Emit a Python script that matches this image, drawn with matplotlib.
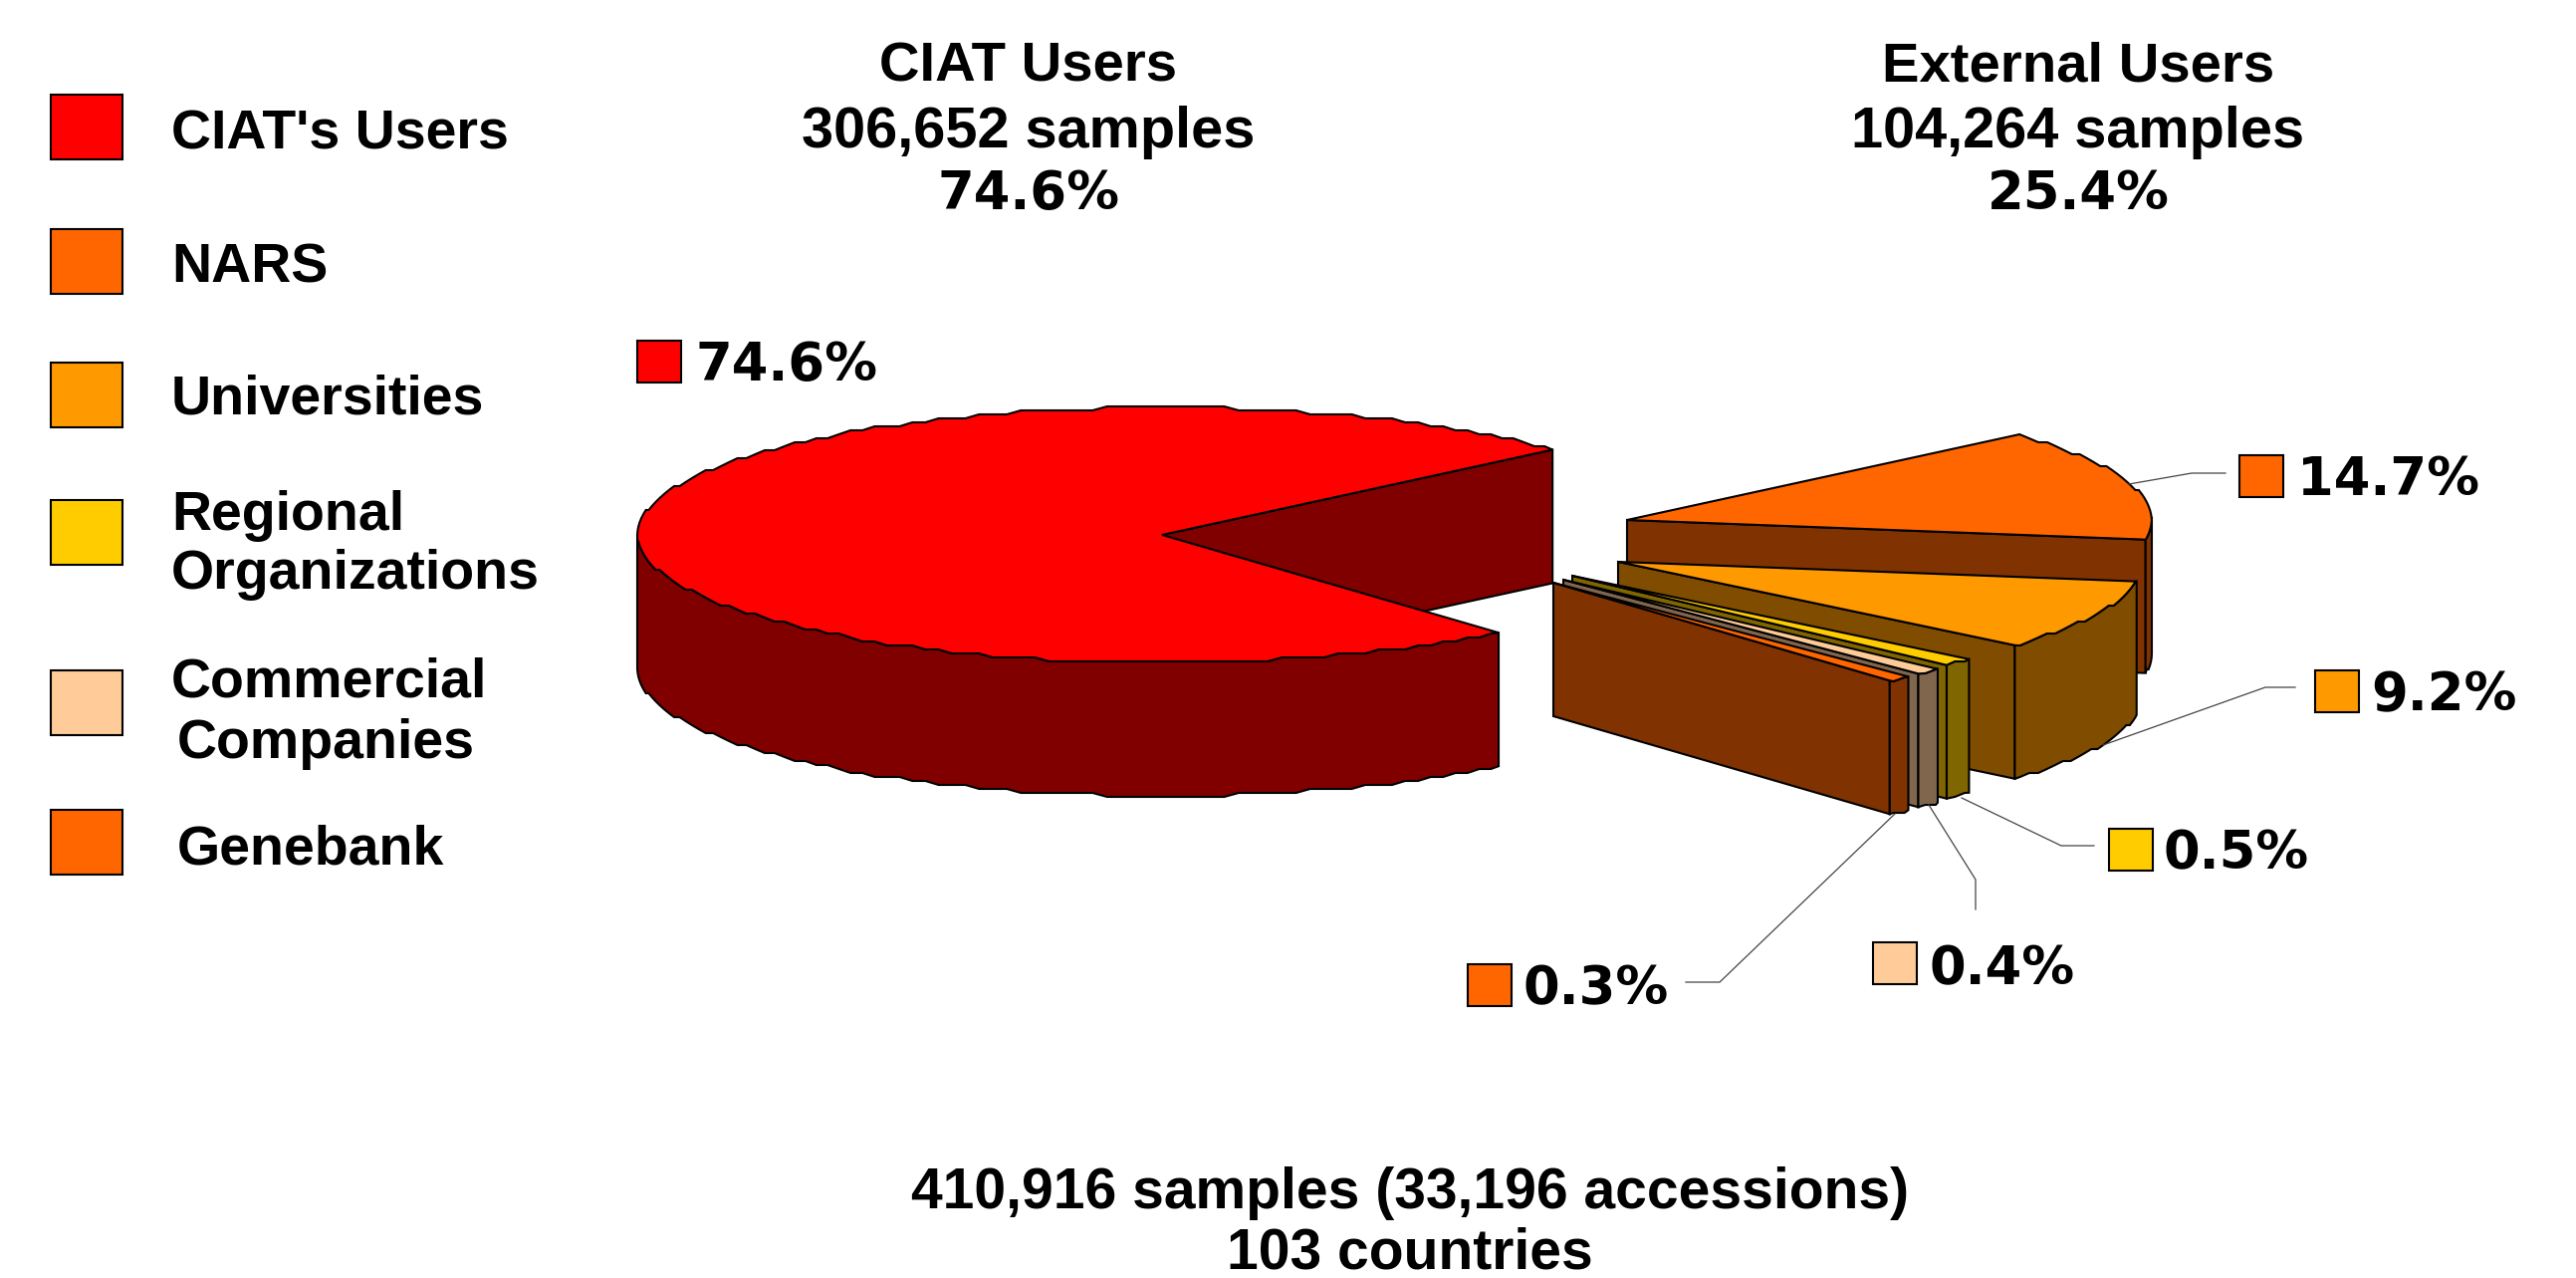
import numpy as np
import matplotlib
matplotlib.use('Agg')
import matplotlib.pyplot as plt
from matplotlib.colors import to_rgb
from matplotlib.patches import Polygon, Rectangle

# slices: share labelled on the chart, and the share the slices are actually drawn with
# (the thin ones are drawn wider than their labels, total still 100)
slice_names = ["CIAT's Users", 'NARS', 'Universities', 'Regional Organizations', 'Commercial Companies', 'Genebank']
label_pct = [74.6, 14.7, 9.2, 0.5, 0.4, 0.3]
drawn_pct = [74.44, 14.1, 8.9, 1.0, 0.82, 0.75]
slice_colors = ['#FF0000', '#FF6600', '#FF9900', '#FFCC00', '#FFCC99', '#FF6600']

heading_left = ['CIAT Users', '306,652 samples', '74.6%']
heading_right = ['External Users', '104,264 samples', '25.4%']
footer = ['410,916 samples (33,196 accessions)', '103 countries']

# pie geometry, in figure pixels
RX, RY, DEPTH = 527, 128, 134
START = 309.9  # degrees, slices run clockwise from here
center_x = [1167, 1634, 1625, 1579, 1570, 1560]
center_y = [537, 522, 564, 578, 582, 585]

W, H = 2587, 1283
fig = plt.figure(figsize=(W / 100, H / 100), dpi=100)
ax = fig.add_axes([0, 0, 1, 1])
ax.set_xlim(0, W)
ax.set_ylim(H, 0)
ax.axis('off')


def rim(cx, cy, a0, a1, drop=0):
    # same angle grid for every call, so top face and wall share their outline
    lo, hi = min(a0, a1), max(a0, a1)
    inner = np.arange(np.ceil(lo / 1.6 + 0.01), np.floor(hi / 1.6 - 0.01) + 1) * 1.6
    deg = np.concatenate([[lo], inner, [hi]])
    t = np.radians(deg)
    x = cx + RX * np.cos(t)
    y = cy - RY * np.sin(t) + drop
    # the outline of the original is slightly stepped
    y[1:-1] = np.round(y[1:-1] / 4) * 4
    pts = np.column_stack([x, y])
    return pts if a1 >= a0 else pts[::-1]


def draw_slice(cx, cy, a0, a1, color):
    dark = tuple(c / 2 for c in to_rgb(color))
    style = dict(facecolor=dark, edgecolor='black', lw=1.5, joinstyle='miter')
    # cut faces that look towards the viewer
    for a, visible in ((a0, np.cos(np.radians(a0)) > 0), (a1, np.cos(np.radians(a1)) < 0)):
        if visible:
            end = rim(cx, cy, a, a)[0]
            ax.add_patch(Polygon([(cx, cy), end, end + [0, DEPTH], (cx, cy + DEPTH)], **style))
    # outer wall, only the front half of the ellipse shows
    for lo, hi in ((a0, a1), (a0 - 360, a1 - 360)):
        lo, hi = max(lo, -180), min(hi, 0)
        if hi > lo:
            top = rim(cx, cy, lo, hi)
            bottom = rim(cx, cy, hi, lo, DEPTH)
            ax.add_patch(Polygon(np.vstack([top, bottom]), **style))
    # top face
    pts = np.vstack([[(cx, cy)], rim(cx, cy, a0 - 360, a1 - 360)])
    ax.add_patch(Polygon(pts, facecolor=color, edgecolor='black', lw=1.5, joinstyle='miter'))


angle = START
for i in range(len(drawn_pct)):
    span = drawn_pct[i] * 3.6
    draw_slice(center_x[i], center_y[i], angle - span, angle, slice_colors[i])
    angle -= span

# leader lines
leaders = [
    [(2138, 486), (2201, 475), (2235, 475)],
    [(2112, 748), (2275, 690), (2305, 690)],
    [(1970, 801), (2070, 849), (2103, 849)],
    [(1937, 808), (1984, 883), (1984, 913)],
    [(1903, 817), (1727, 986), (1693, 986)],
]
for line in leaders:
    xs, ys = zip(*line)
    ax.plot(xs, ys, color='#444444', lw=0.9, solid_joinstyle='miter')

# value labels: colour key and number
key_x = [640, 2249, 2325, 2118, 1881, 1474]
key_y = [342, 457, 673, 832, 946, 968]
val_x = [699, 2307, 2381, 2173, 1938, 1530]
val_base = [382, 497, 713, 872, 988, 1008]
for i, v in enumerate(label_pct):
    ax.add_patch(Rectangle((key_x[i], key_y[i]), 44, 42, facecolor=slice_colors[i], edgecolor='black', lw=1.5))
    ax.text(val_x[i], val_base[i], f'{v}%', fontsize=38, family='DejaVu Sans', fontweight='bold',
            color='black', ha='left', va='baseline')

# legend on the left
legend_y = [95, 230, 364, 502, 673, 813]
for y, c in zip(legend_y, slice_colors):
    ax.add_patch(Rectangle((51, y), 72, 65, facecolor=c, edgecolor='black', lw=1.5))

legend_lines = [
    ("CIAT's Users", 172, 149),
    ('NARS', 172, 283),
    ('Universities', 172, 416),
    ('Regional', 172, 532),
    ('Organizations', 172, 591),
    ('Commercial', 172, 699),
    ('Companies', 178, 761),
    ('Genebank', 178, 867),
]
for s, x, y in legend_lines:
    ax.text(x, y, s, fontsize=40, family='Liberation Sans', fontweight='bold', ha='left', va='baseline')

# headings and footer
for lines, x, bases in ((heading_left, 1033, (82, 148, 210)), (heading_right, 2087, (82, 148, 210))):
    ax.text(x, bases[0], lines[0], fontsize=40.5, family='Liberation Sans', fontweight='bold', ha='center', va='baseline')
    ax.text(x, bases[1], lines[1], fontsize=41.5, family='Liberation Sans', fontweight='bold', ha='center', va='baseline')
    ax.text(x, bases[2], lines[2], fontsize=38, family='DejaVu Sans', fontweight='bold', ha='center', va='baseline')

for s, y in zip(footer, (1213, 1274)):
    ax.text(1416, y, s, fontsize=41, family='Liberation Sans', fontweight='bold', ha='center', va='baseline')

fig.savefig('out.png', dpi=100, facecolor='white')
